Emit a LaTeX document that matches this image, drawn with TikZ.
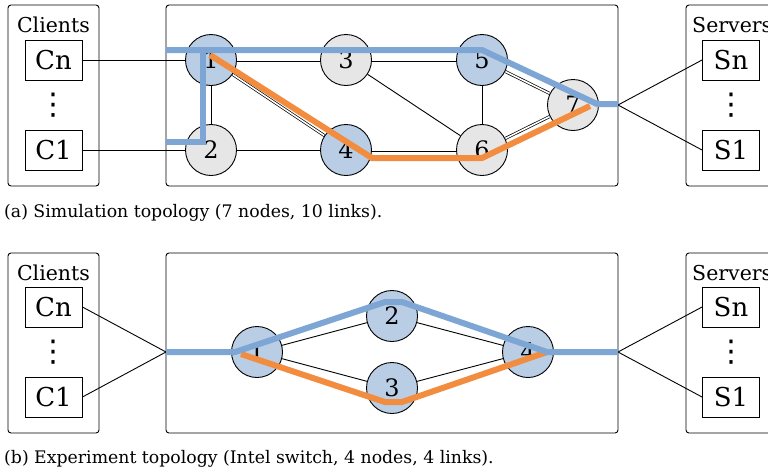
\documentclass[tikz,border=0pt]{standalone}
\usepackage{fontspec}
\setmainfont{DejaVu Serif}
\newfontfamily\dotsfont{DejaVu Sans}
\usetikzlibrary{backgrounds}
\definecolor{nodeblue}{HTML}{B9CDE5}
\definecolor{nodegray}{HTML}{E6E6E6}
\definecolor{pathblue}{HTML}{7DA6D4}
\definecolor{pathorange}{HTML}{F28C3E}
\begin{document}
\begin{tikzpicture}[x=1pt,y=-1pt,
  every node/.style={inner sep=0pt},
  grp/.style={draw, rounded corners=3pt, line width=0.9pt},
  host/.style={draw, fill=white, line width=0.9pt, minimum width=57pt, minimum height=40pt, font=\fontsize{26}{26}\selectfont},
  grplabel/.style={anchor=base, font=\fontsize{20.5}{20.5}\selectfont},
  dots/.style={font=\dotsfont\fontsize{30}{30}\selectfont},
  sw/.style={circle, draw, line width=0.9pt, minimum size=51pt, font=\fontsize{24}{24}\selectfont},
  swb/.style={sw, fill=nodeblue},
  swg/.style={sw, fill=nodegray},
  link/.style={line width=0.9pt},
  dlink/.style={double, double distance=1.6pt, line width=0.7pt},
  bpath/.style={draw=pathblue, line width=6pt},
  opath/.style={draw=pathorange, line width=6pt},
  captext/.style={anchor=base west, font=\fontsize{17.3}{17.3}\selectfont}
]
\useasboundingbox (0,0) rectangle (768,472);
% ---------------- top ----------------
\draw[grp] (8,5) rectangle (99,186);
\draw[grp] (166,5) rectangle (618,186);
\draw[grp] (686,5) rectangle (800,186);
\node[grplabel] (clA) at (53.5,32) {Clients};
\node[grplabel, anchor=base west] (svA) at (692,32) {Servers};
\node[host] (cnA) at (53.5,60) {Cn};
\node[host] (c1A) at (53.5,150) {C1};
\node[dots] (dcA) at (53.5,105) {⋮};
\node[host] (snA) at (731,60) {Sn};
\node[host] (s1A) at (731,150) {S1};
\node[dots] (dsA) at (731,105) {⋮};
\node[swb] (a1) at (211,60) {1};
\node[swg] (a2) at (211,150) {2};
\node[swg] (a3) at (346,60) {3};
\node[swb] (a4) at (346,150) {4};
\node[swb] (a5) at (482,60) {5};
\node[swg] (a6) at (482,150) {6};
\node[swg] (a7) at (573,105) {7};
\coordinate (eA) at (618,105);
\begin{scope}[on background layer]
\draw[link] (cnA) -- (a1);
\draw[link] (c1A) -- (a2);
\draw[link] (a1) -- (a2);
\draw[link] (a2) -- (a4);
\draw[link] (a3) -- (a6);
\draw[link] (a5) -- (a6);
\draw[dlink] (a1) -- (a3);
\draw[dlink] (a3) -- (a5);
\draw[dlink] (a1) -- (a4);
\draw[dlink] (a4) -- (a6);
\draw[dlink] (a5) -- (a7);
\draw[dlink] (a6) -- (a7);
\draw[link] (a7) -- (eA);
\end{scope}
\draw[link] (eA) -- (snA.west);
\draw[link] (eA) -- (s1A.west);
% paths
\coordinate (pA0) at (166,50);
\coordinate (pA1) at (482,50);
\coordinate (pA2) at (597,104);
\coordinate (pA3) at (618,104);
\coordinate (qA0) at (166,142);
\coordinate (qA1) at (203,142);
\coordinate (qA2) at (203,47);
\coordinate (oA0) at (210,55);
\coordinate (oA1) at (372,158);
\coordinate (oA2) at (482,158);
\coordinate (oA3) at (590,106);
\draw[opath] (oA0) -- (oA1) -- (oA2) -- (oA3);
\draw[bpath] (pA0) -- (pA1) -- (pA2) -- (pA3);
\draw[bpath] (qA0) -- (qA1) -- (qA2);
\node[captext] (capA) at (4,217) {(a) Simulation topology (7 nodes, 10 links).};
% ---------------- bottom ----------------
\draw[grp] (8,253) rectangle (99,433);
\draw[grp] (166,253) rectangle (618,433);
\draw[grp] (686,253) rectangle (800,433);
\node[grplabel] (clB) at (53.5,280) {Clients};
\node[grplabel, anchor=base west] (svB) at (692,280) {Servers};
\node[host] (cnB) at (53.5,307) {Cn};
\node[host] (c1B) at (53.5,397) {C1};
\node[dots] (dcB) at (53.5,352) {⋮};
\node[host] (snB) at (731,307) {Sn};
\node[host] (s1B) at (731,397) {S1};
\node[dots] (dsB) at (731,352) {⋮};
\node[swb] (b1) at (257,352) {1};
\node[swb] (b2) at (392,316) {2};
\node[swb] (b3) at (392,388) {3};
\node[swb] (b4) at (528,352) {4};
\coordinate (wB) at (166,352);
\coordinate (eB) at (618,352);
\begin{scope}[on background layer]
\draw[link] (wB) -- (b1);
\draw[link] (b1) -- (b2);
\draw[link] (b1) -- (b3);
\draw[link] (b2) -- (b4);
\draw[link] (b3) -- (b4);
\draw[link] (b4) -- (eB);
\end{scope}
\draw[link] (cnB.east) -- (wB);
\draw[link] (c1B.east) -- (wB);
\draw[link] (eB) -- (snB.west);
\draw[link] (eB) -- (s1B.west);
\coordinate (pB1) at (235,352);
\coordinate (pB2) at (385,302);
\coordinate (pB3) at (402,302);
\coordinate (pB4) at (547,352);
\coordinate (oB0) at (241,354);
\coordinate (oB1) at (385,402);
\coordinate (oB2) at (402,402);
\draw[opath] (oB0) -- (oB1) -- (oB2) -- (pB4);
\draw[bpath] (wB) -- (pB1) -- (pB2) -- (pB3) -- (pB4) -- (eB);
\node[captext] (capB) at (4,463) {(b) Experiment topology (Intel switch, 4 nodes, 4 links).};
\end{tikzpicture}
\end{document}
